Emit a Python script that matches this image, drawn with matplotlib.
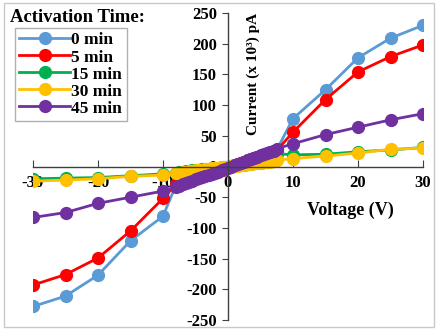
import matplotlib
matplotlib.use("Agg")
import matplotlib.pyplot as plt
from matplotlib.patches import Rectangle

plt.rcParams['font.family'] = ['Liberation Serif', 'DejaVu Serif']
plt.rcParams['font.weight'] = 'bold'
plt.rcParams['axes.unicode_minus'] = False

labels = ["0 min", "5 min", "15 min", "30 min", "45 min"]
colors = ["#5B9BD5", "#FF0000", "#00B050", "#FFC000", "#7030A0"]

# coarse sweep on both sides, fine sweep around zero
v_neg = [-30, -25, -20, -15, -10]
v_fine = [-8, -7.5, -7, -6.5, -6, -5.5, -5, -4.5, -4, -3.5, -3, -2.5, -2, -1.5, -1,
          -0.5, 0, 0.5, 1, 1.5, 2, 2.5, 3, 3.5, 4, 4.5, 5, 5.5, 6, 6.5, 7, 7.5]
v_pos = [10, 15, 20, 25, 30]

i_neg = {
    "0 min":  [-228, -211, -177, -121, -81],
    "5 min":  [-193, -176, -149, -105, -52],
    "15 min": [-20, -19, -18, -15, -12],
    "30 min": [-24, -22, -20, -16, -14],
    "45 min": [-83, -75, -60, -50, -40],
}
i_fine = {
    "0 min":  [-30, -28, -26, -24, -22, -20, -18.5, -17, -15, -13.5, -12, -10, -8.5, -7, -5, -3.5,
               -1, 1, 3, 4.5, 6.5, 8, 10, 12, 14, 15.5, 17.5, 19, 21, 23, 25, 27],
    "5 min":  [-29, -27, -25, -23, -21, -19, -18, -16, -14.5, -13, -11, -9.5, -8, -6.5, -5, -3,
               -1, 1, 3, 4.5, 6, 8, 10, 11.5, 13.5, 15, 17, 19, 21, 22.5, 24.5, 26],
    "15 min": [-10, -9, -8.5, -8, -7, -6.5, -6, -5.5, -4.5, -4, -3.5, -3, -2.5, -2, -1, -0.5,
               0, 0.5, 1, 2, 2.5, 3, 4, 4.5, 5, 6, 6.5, 7.5, 8, 9, 9.5, 21],
    "30 min": [-11, -10, -9, -8.5, -8, -7, -6.5, -6, -5, -4.5, -4, -3, -2.5, -2, -1, -0.5,
               0, 0.5, 1, 1.5, 2, 3, 3.5, 4, 5, 5.5, 6, 7, 7.5, 8, 9, 10],
    "45 min": [-33, -31, -29, -27, -25, -23, -21, -19.5, -17.5, -16, -14, -12, -10.5, -8.5, -6.5, -4.5,
               -2, 0, 2, 4, 6, 8, 10, 12, 14, 16, 18, 20, 22, 24, 26, 29],
}
i_pos = {
    "0 min":  [78, 125, 177, 209, 230],
    "5 min":  [56, 109, 154, 179, 198],
    "15 min": [19, 20, 24, 27, 31],
    "30 min": [13, 17, 22, 28, 30],
    "45 min": [37, 52, 64, 76, 86],
}

fig = plt.figure(figsize=(4.38, 3.30), dpi=100)
# axes box: x from 33 to 423 px, y from 13 to 320 px
ax = fig.add_axes((33 / 438, 10 / 330, 390 / 438, 307 / 330))

for name, col in zip(labels, colors):
    v = v_neg + v_fine + v_pos
    cur = i_neg[name] + i_fine[name] + i_pos[name]
    ax.plot(v, cur, color=col, lw=2.0, marker='o', ms=8.5, label=name)

ax.set_xlim(-30, 30)
ax.set_ylim(-250, 250)
ax.set_xticks([-30, -20, -10, 0, 10, 20, 30])
ax.set_yticks(range(-250, 251, 50))

ax.spines['left'].set_position(('data', 0))
ax.spines['bottom'].set_position(('data', 0))
ax.spines['top'].set_visible(False)
ax.spines['right'].set_visible(False)
for s in ('left', 'bottom'):
    ax.spines[s].set_color('#404040')
    ax.spines[s].set_linewidth(1.0)
ax.tick_params(axis='x', direction='in', length=5, labelsize=12, pad=6, color='#404040')
ax.tick_params(axis='y', direction='out', length=4, labelsize=12, pad=4, color='#404040')
for t in ax.get_xticklabels() + ax.get_yticklabels():
    t.set_fontweight('bold')

ax.text(3.9, 150, "Current (x 10³) pA", rotation=90, ha='center', va='center',
        fontsize=11, fontweight='bold')
ax.text(18.8, -72, "Voltage (V)", ha='center', va='center', fontsize=13, fontweight='bold')

fig.text(10 / 438, 1 - 18 / 330, "Activation Time:", ha='left', va='center',
         fontsize=13.5, fontweight='bold')
leg = ax.legend(loc='upper left', bbox_to_anchor=(15 / 438, 1 - 28 / 330),
                bbox_transform=fig.transFigure, fancybox=False, framealpha=1,
                edgecolor='#b0b0b0', handlelength=2.9, handletextpad=0.1,
                labelspacing=0.05, borderpad=0.25, borderaxespad=0,
                prop={'weight': 'bold', 'size': 12.5})
leg.get_frame().set_linewidth(1.0)

fig.patches.append(Rectangle((4 / 438, 3 / 330), 1 - 8 / 438, 1 - 6 / 330,
                             transform=fig.transFigure, fill=False,
                             edgecolor='#c8c8c8', lw=1.0))

fig.savefig("out.png", dpi=100)
